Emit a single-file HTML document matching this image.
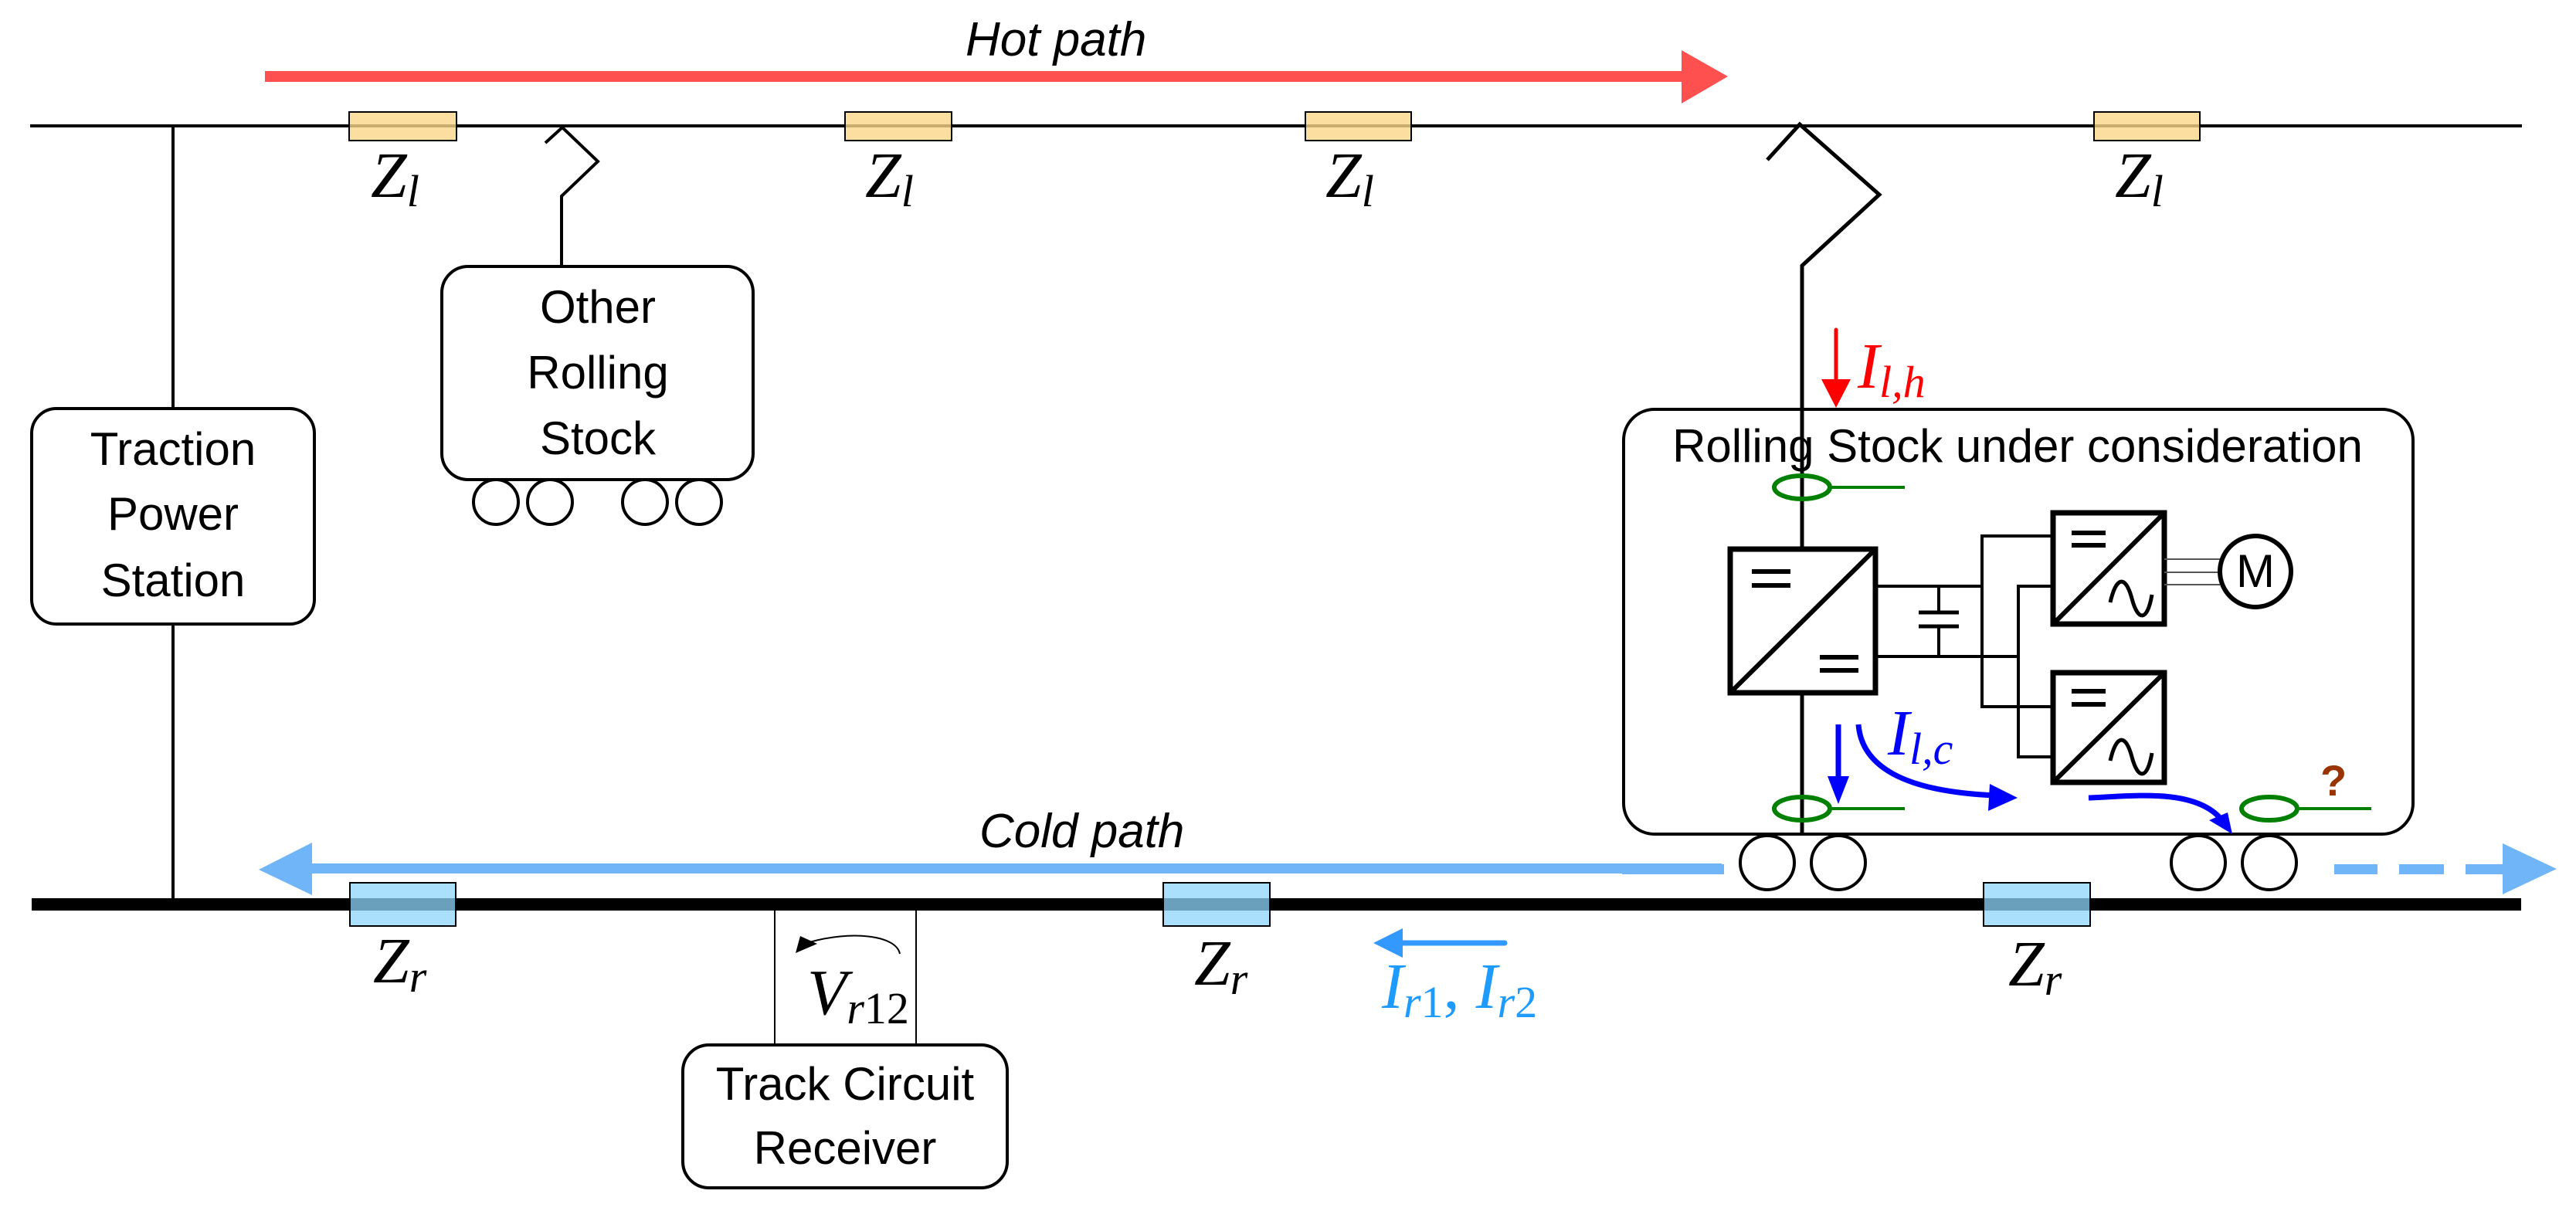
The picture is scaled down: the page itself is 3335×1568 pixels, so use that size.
<!DOCTYPE html>
<html><head><meta charset="utf-8"><style>
html,body{margin:0;padding:0;background:#fff;}
svg{display:block;}
.c{font-family:"Liberation Sans Narrow","Liberation Sans",sans-serif;font-size:60px;text-anchor:middle;}
.m{font-family:"Liberation Serif",serif;font-style:italic;font-size:84px;}
.s{font-size:58px;}
</style></head><body>
<svg width="3335" height="1568" viewBox="0 0 3335 1568" xmlns="http://www.w3.org/2000/svg">
<!-- hot path -->
<rect x="343" y="92" width="1834" height="14" fill="#ff5050"/>
<polygon points="2177,65 2237,99 2177,134" fill="#ff5050"/>
<text x="1250" y="72" font-family="Liberation Sans Narrow,Liberation Sans,sans-serif" font-style="italic" font-size="62">Hot path</text>
<!-- overhead line -->
<line x1="39" y1="163" x2="3265" y2="163" stroke="#000" stroke-width="4"/>
<g fill="#fcd68a" fill-opacity="0.8" stroke="#000" stroke-width="2">
<rect x="452" y="145" width="139" height="37"/>
<rect x="1094" y="145" width="138" height="37"/>
<rect x="1690" y="145" width="137" height="37"/>
<rect x="2711" y="145" width="137" height="37"/>
</g>
<g class="m">
<text x="480" y="255">Z<tspan class="s" dy="12">l</tspan></text>
<text x="1120" y="255">Z<tspan class="s" dy="12">l</tspan></text>
<text x="1716" y="255">Z<tspan class="s" dy="12">l</tspan></text>
<text x="2738" y="255">Z<tspan class="s" dy="12">l</tspan></text>
</g>
<!-- traction power station -->
<line x1="224" y1="163" x2="224" y2="1171" stroke="#000" stroke-width="4"/>
<rect x="41" y="529" width="366" height="279" rx="32" fill="#fff" stroke="#000" stroke-width="4"/>
<g class="c"><text x="224" y="602">Traction</text><text x="224" y="686">Power</text><text x="224" y="772">Station</text></g>
<!-- other rolling stock -->
<polyline points="706,185 728,165 774,209 727,254 727,345" fill="none" stroke="#000" stroke-width="4"/>
<rect x="572" y="345" width="403" height="276" rx="34" fill="#fff" stroke="#000" stroke-width="4"/>
<g class="c"><text x="774" y="418">Other</text><text x="774" y="503">Rolling</text><text x="774" y="588">Stock</text></g>
<g fill="#fff" stroke="#000" stroke-width="4">
<circle cx="642" cy="650" r="29"/><circle cx="712" cy="650" r="29"/><circle cx="835" cy="650" r="29"/><circle cx="905" cy="650" r="29"/>
</g>
<!-- main pantograph -->
<polyline points="2288,207 2330,161 2433,252 2333,344 2333,1080" fill="none" stroke="#000" stroke-width="5"/>
<!-- rolling stock box -->
<rect x="2102" y="530" width="1022" height="550" rx="40" fill="none" stroke="#000" stroke-width="4"/>
<line x1="2333" y1="344" x2="2333" y2="1080" stroke="#000" stroke-width="4"/>
<text x="2612" y="598" class="c" font-size="58">Rolling Stock under consideration</text>
<!-- I_lh -->
<line x1="2377" y1="427" x2="2377" y2="495" stroke="#f00" stroke-width="5" stroke-linecap="round"/>
<polygon points="2358,491 2396,491 2377,528" fill="#f00"/>
<text x="2405" y="502" class="m" fill="#f00" font-size="82">I<tspan class="s" dy="12">l,h</tspan></text>
<!-- green sensors -->
<g fill="none" stroke="#008000" stroke-width="6">
<ellipse cx="2333" cy="631" rx="36" ry="15"/><line x1="2370" y1="631" x2="2466" y2="631" stroke-width="4"/>
<ellipse cx="2333" cy="1047" rx="36" ry="15"/><line x1="2370" y1="1047" x2="2466" y2="1047" stroke-width="4"/>
<ellipse cx="2938" cy="1047" rx="36" ry="15"/><line x1="2975" y1="1047" x2="3070" y2="1047" stroke-width="4"/>
</g>
<!-- converters -->
<g fill="#fff" stroke="#000" stroke-width="7">
<rect x="2240" y="711" width="188" height="186"/>
<rect x="2658" y="664" width="144" height="144"/>
<rect x="2658" y="871" width="144" height="142"/>
</g>
<g stroke="#000" stroke-width="6" fill="none">
<line x1="2240" y1="897" x2="2428" y2="711"/>
<line x1="2658" y1="808" x2="2802" y2="664"/>
<line x1="2658" y1="1013" x2="2802" y2="871"/>
<line x1="2268" y1="740" x2="2318" y2="740"/><line x1="2268" y1="758" x2="2318" y2="758"/>
<line x1="2356" y1="851" x2="2406" y2="851"/><line x1="2356" y1="868" x2="2406" y2="868"/>
<line x1="2682" y1="690" x2="2726" y2="690"/><line x1="2682" y1="706" x2="2726" y2="706"/>
<line x1="2682" y1="895" x2="2726" y2="895"/><line x1="2682" y1="912" x2="2726" y2="912"/>
<path d="M2732,780 C2740,745 2752,745 2760,775 C2768,805 2780,805 2786,770" stroke-width="5"/>
<path d="M2732,985 C2740,950 2752,950 2760,980 C2768,1010 2780,1010 2786,975" stroke-width="5"/>
</g>
<g stroke="#000" stroke-width="4" fill="none">
<polyline points="2428,759 2566,759"/><polyline points="2428,850 2613,850"/>
<line x1="2510" y1="759" x2="2510" y2="793"/><line x1="2510" y1="811" x2="2510" y2="850"/>
<line x1="2484" y1="793" x2="2536" y2="793" stroke-width="5"/><line x1="2484" y1="811" x2="2536" y2="811" stroke-width="5"/>
<polyline points="2658,694 2566,694 2566,915 2658,915"/>
<polyline points="2658,759 2613,759 2613,980 2658,980"/>
<line x1="2802" y1="724" x2="2874" y2="724" stroke-width="2" stroke="#555"/>
<line x1="2802" y1="741" x2="2874" y2="741" stroke-width="2" stroke="#555"/>
<line x1="2802" y1="757" x2="2874" y2="757" stroke-width="2" stroke="#555"/>
</g>
<circle cx="2920" cy="740" r="46" fill="#fff" stroke="#000" stroke-width="6"/>
<text x="2920" y="760" class="c" font-size="54">M</text>
<!-- blue current arrows -->
<g stroke="#0000ff" stroke-width="7" fill="none">
<line x1="2380" y1="938" x2="2380" y2="1015"/>
<path d="M2406,938 C2410,990 2460,1025 2585,1030"/>
<path d="M2704,1033 C2760,1031 2840,1020 2875,1060"/>
</g>
<g fill="#0000ff">
<polygon points="2366,1005 2394,1005 2380,1041"/>
<polygon points="2576,1015 2612,1033 2574,1050"/>
<polygon points="2860,1062 2884,1052 2890,1080"/>
</g>
<text x="2444" y="977" class="m" fill="#0000ff" font-size="82">I<tspan class="s" dy="12">l,c</tspan></text>
<text x="3004" y="1030" font-family="Liberation Sans,sans-serif" font-weight="bold" font-size="56" fill="#993300">?</text>
<!-- cold path -->
<rect x="404" y="1118" width="1825" height="13" fill="#6fb5f8"/>
<polygon points="335,1126 404,1091 404,1159" fill="#6fb5f8"/>
<rect x="2100" y="1119" width="132" height="13" fill="#6fb5f8"/>
<g fill="#6fb5f8"><rect x="3022" y="1119" width="56" height="13"/><rect x="3106" y="1119" width="58" height="13"/><rect x="3192" y="1119" width="56" height="13"/>
<polygon points="3240,1092 3310,1125 3240,1158"/></g>
<text x="1268" y="1097" font-family="Liberation Sans Narrow,Liberation Sans,sans-serif" font-style="italic" font-size="62">Cold path</text>
<!-- rail -->
<rect x="41" y="1163" width="3223" height="16" fill="#000"/>
<g fill="#fff" stroke="#000" stroke-width="4">
<circle cx="2288" cy="1117" r="35"/><circle cx="2380" cy="1117" r="35"/><circle cx="2846" cy="1117" r="35"/><circle cx="2938" cy="1117" r="35"/>
</g>
<g fill="#8fd6fc" fill-opacity="0.75" stroke="#000" stroke-width="2">
<rect x="453" y="1143" width="137" height="56"/>
<rect x="1506" y="1143" width="138" height="56"/>
<rect x="2568" y="1143" width="138" height="56"/>
</g>
<g class="m">
<text x="483" y="1272">Z<tspan class="s" dy="12">r</tspan></text>
<text x="1546" y="1275">Z<tspan class="s" dy="12">r</tspan></text>
<text x="2600" y="1276">Z<tspan class="s" dy="12">r</tspan></text>
</g>
<!-- Ir arrow -->
<line x1="1812" y1="1221" x2="1948" y2="1221" stroke="#3399ff" stroke-width="7" stroke-linecap="round"/>
<polygon points="1778,1221 1816,1202 1816,1240" fill="#3399ff"/>
<text x="1789" y="1305" class="m" fill="#1e9bff" font-size="82">I<tspan class="s" dy="12">r</tspan><tspan font-style="normal" class="s">1</tspan><tspan dy="-12" font-style="normal">, </tspan>I<tspan class="s" dy="12">r</tspan><tspan font-style="normal" class="s">2</tspan></text>
<!-- track circuit -->
<line x1="1003" y1="1179" x2="1003" y2="1353" stroke="#000" stroke-width="2"/>
<line x1="1186" y1="1179" x2="1186" y2="1353" stroke="#000" stroke-width="2"/>
<path d="M1165,1235 C1160,1210 1100,1205 1048,1220" fill="none" stroke="#000" stroke-width="2"/>
<polygon points="1036,1212 1058,1222 1030,1234" fill="#000"/>
<text x="1045" y="1313" class="m">V<tspan class="s" dy="12">r</tspan><tspan font-style="normal" class="s">12</tspan></text>
<rect x="884" y="1353" width="420" height="185" rx="34" fill="#fff" stroke="#000" stroke-width="4"/>
<g class="c"><text x="1094" y="1424">Track Circuit</text><text x="1094" y="1507">Receiver</text></g>
</svg>
</body></html>
